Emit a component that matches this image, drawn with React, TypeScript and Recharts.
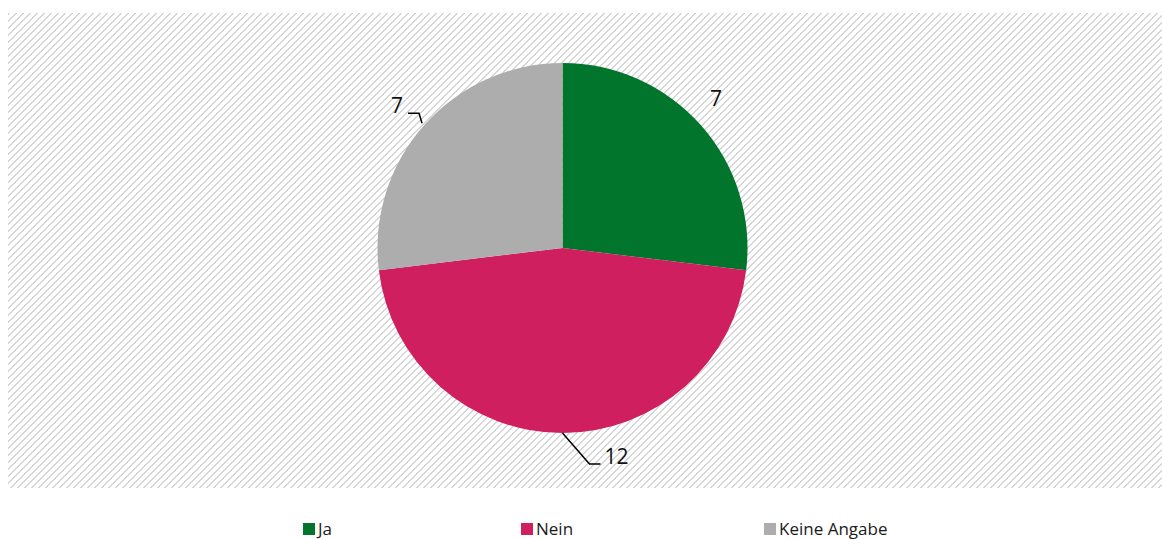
import React from "react";
import { PieChart, Pie, Cell } from "recharts";

const categories = ["Ja", "Nein", "Keine Angabe"];
const values = [7, 12, 7];
const colors = ["#00752B", "#CF1F5F", "#ADADAD"];

const data = categories.map((name, i) => ({ name, value: values[i] }));

const RADIAN = Math.PI / 180;
const FONT = "'Open Sans', 'Noto Sans', sans-serif";

const renderLabel = (props: any) => {
  const { cx, cy, midAngle, outerRadius, value, index } = props;
  const ex = cx + outerRadius * Math.cos(-midAngle * RADIAN);
  const ey = cy + outerRadius * Math.sin(-midAngle * RADIAN);
  const common = { fontFamily: FONT, fontSize: 21, fill: "#111" } as const;
  if (index === 0) {
    return (
      <text key={`l${index}`} x={ex + 15} y={ey - 27} textAnchor="middle" dominantBaseline="central" {...common}>
        {value}
      </text>
    );
  }
  if (index === 1) {
    return (
      <g key={`l${index}`}>
        <polyline points={`${ex},${ey} ${ex + 27},${ey + 31} ${ex + 38},${ey + 31}`} fill="none" stroke="#000" strokeWidth={1.5} />
        <text x={ex + 42} y={ey + 23} textAnchor="start" dominantBaseline="central" {...common}>
          {value}
        </text>
      </g>
    );
  }
  return (
    <g key={`l${index}`}>
      <polyline points={`${ex - 2},${ey - 2} ${ex - 5},${ey - 12} ${ex - 16},${ey - 12}`} fill="none" stroke="#000" strokeWidth={1.5} />
      <text x={ex - 27} y={ey - 20} textAnchor="middle" dominantBaseline="central" {...common}>
        {value}
      </text>
    </g>
  );
};

const legendLeft = [303, 521, 764];

export default function App() {
  return (
    <div style={{ position: "absolute", left: 0, top: 0, width: 1162, height: 539, background: "#fff", overflow: "hidden" }}>
      <div
        style={{
          position: "absolute",
          left: 8,
          top: 13,
          width: 1154,
          height: 475,
          backgroundImage: "repeating-linear-gradient(135deg, #d6d6d6 0px, #d6d6d6 1.5px, transparent 1.5px, transparent 4.95px)",
        }}
      />
      <div style={{ position: "absolute", left: 0, top: 0 }}>
        <PieChart width={1162} height={539} margin={{ top: 0, right: 0, bottom: 0, left: 0 }}>
          <Pie
            data={data}
            dataKey="value"
            nameKey="name"
            cx={562.5}
            cy={248}
            outerRadius={185}
            startAngle={90}
            endAngle={-270}
            stroke="none"
            isAnimationActive={false}
            label={renderLabel}
            labelLine={false}
          >
            {data.map((d, i) => (
              <Cell key={d.name} fill={colors[i]} />
            ))}
          </Pie>
        </PieChart>
      </div>
      {categories.map((c, i) => (
        <div
          key={c}
          style={{
            position: "absolute",
            left: legendLeft[i],
            top: 519,
            height: 20,
            display: "flex",
            alignItems: "center",
            fontFamily: FONT,
            fontSize: 17,
            color: "#1a1a1a",
            whiteSpace: "nowrap",
            lineHeight: "20px",
          }}
        >
          <span style={{ display: "inline-block", width: 12, height: 12, background: colors[i], marginRight: 3 }} />
          <span>{c}</span>
        </div>
      ))}
    </div>
  );
}
